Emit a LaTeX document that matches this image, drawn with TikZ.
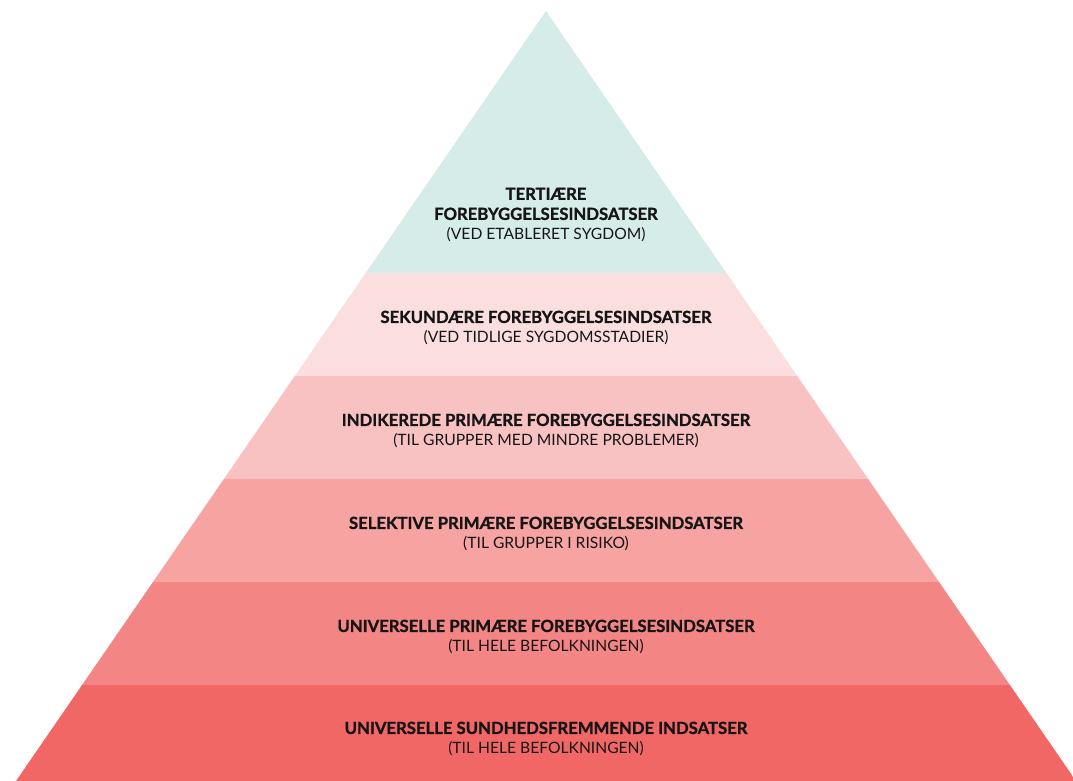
\documentclass[tikz,border=0pt]{standalone}
\usepackage{fontspec}
\setmainfont{Lato}[BoldFeatures={FakeBold=1.2}]
\usetikzlibrary{calc}

\definecolor{tealtop}{HTML}{D5ECE9}
\definecolor{band1}{HTML}{FBDFDF}
\definecolor{band2}{HTML}{F9C2C2}
\definecolor{band3}{HTML}{F6A3A2}
\definecolor{band4}{HTML}{F38584}
\definecolor{band5}{HTML}{F16765}
\definecolor{inktext}{HTML}{151515}

\tikzset{
  lvl/.style={align=center, text=inktext, font=\fontsize{8.9}{11.4}\selectfont, inner sep=0pt},
}
\newcommand{\lvltitle}[1]{{\fontsize{9.5}{11.4}\selectfont\bfseries #1}}

\begin{document}
\begin{tikzpicture}[x=0.02cm, y=-0.02cm]
\useasboundingbox (0,0) rectangle (1073,781);
\begin{scope}
\clip (546,11) -- (16,781) -- (1076,781) -- cycle;
\fill[tealtop] (0,0) rectangle (1073,273);
\fill[band1] (0,273) rectangle (1073,376);
\fill[band2] (0,376) rectangle (1073,479);
\fill[band3] (0,479) rectangle (1073,582);
\fill[band4] (0,582) rectangle (1073,685);
\fill[band5] (0,685) rectangle (1073,782);
\end{scope}

\node[lvl] (tert) at (546,215) {\lvltitle{TERTIÆRE}\\\lvltitle{FOREBYGGELSESINDSATSER}\\(VED ETABLERET SYGDOM)};
\node[lvl] (sek) at (546,328) {\lvltitle{SEKUNDÆRE FOREBYGGELSESINDSATSER}\\(VED TIDLIGE SYGDOMSSTADIER)};
\node[lvl] (ind) at (546,431) {\lvltitle{INDIKEREDE PRIMÆRE FOREBYGGELSESINDSATSER}\\(TIL GRUPPER MED MINDRE PROBLEMER)};
\node[lvl] (sel) at (546,534) {\lvltitle{SELEKTIVE PRIMÆRE FOREBYGGELSESINDSATSER}\\(TIL GRUPPER I RISIKO)};
\node[lvl] (uni) at (546,637) {\lvltitle{UNIVERSELLE PRIMÆRE FOREBYGGELSESINDSATSER}\\(TIL HELE BEFOLKNINGEN)};
\node[lvl] (sund) at (546,739) {\lvltitle{UNIVERSELLE SUNDHEDSFREMMENDE INDSATSER}\\(TIL HELE BEFOLKNINGEN)};
\end{tikzpicture}
\end{document}
